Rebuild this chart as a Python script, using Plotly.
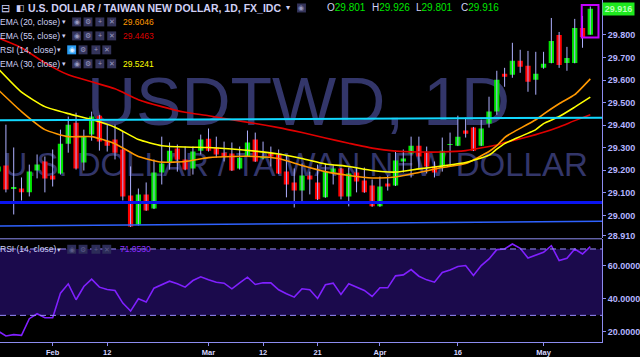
import plotly.graph_objects as go
import pandas as pd

# ---------------- data ----------------
dates = [d.strftime('%Y-%m-%d') for d in pd.bdate_range('2018-01-23', '2018-05-09')]

opens = [29.194, 29.221, 29.118, 29.119, 29.102, 29.199, 29.239, 29.177, 29.186, 29.318,
         29.411, 29.234, 29.358, 29.442, 29.331, 29.336, 29.292, 29.088, 28.960, 29.093,
         29.031, 29.190, 29.234, 29.296, 29.248, 29.208, 29.287, 29.340, 29.301, 29.278,
         29.274, 29.208, 29.261, 29.336, 29.252, 29.274, 29.270, 29.194, 29.146, 29.110,
         29.177, 29.146, 29.080, 29.190, 29.208, 29.084, 29.190, 29.155, 29.133, 29.040,
         29.141, 29.133, 29.239, 29.274, 29.309, 29.278, 29.217, 29.217, 29.312, 29.309,
         29.376, 29.389, 29.309, 29.407, 29.460, 29.628, 29.623, 29.685, 29.663, 29.601,
         29.654, 29.676, 29.800, 29.676, 29.676, 29.831, 29.801]
highs = [29.230, 29.402, 29.301, 29.168, 29.225, 29.270, 29.261, 29.292, 29.380, 29.438,
         29.455, 29.380, 29.460, 29.445, 29.402, 29.402, 29.371, 29.217, 29.119, 29.146,
         29.248, 29.349, 29.323, 29.314, 29.305, 29.305, 29.358, 29.385, 29.349, 29.327,
         29.323, 29.305, 29.376, 29.367, 29.327, 29.305, 29.292, 29.265, 29.208, 29.230,
         29.194, 29.225, 29.230, 29.225, 29.210, 29.212, 29.212, 29.212, 29.159, 29.172,
         29.177, 29.287, 29.292, 29.349, 29.349, 29.305, 29.239, 29.345, 29.367, 29.442,
         29.433, 29.392, 29.424, 29.526, 29.641, 29.654, 29.765, 29.734, 29.729, 29.725,
         29.725, 29.875, 29.813, 29.747, 29.871, 29.884, 29.926]
lows = [29.180, 29.102, 29.004, 29.066, 29.084, 29.164, 29.102, 29.128, 29.181, 29.278,
        29.203, 29.199, 29.331, 29.287, 29.283, 29.248, 29.066, 28.949, 28.955, 29.020,
        29.028, 29.137, 29.203, 29.194, 29.200, 29.181, 29.270, 29.283, 29.256, 29.239,
        29.197, 29.203, 29.259, 29.237, 29.248, 29.217, 29.183, 29.080, 29.035, 29.062,
        29.093, 29.068, 29.078, 29.137, 29.071, 29.040, 29.102, 29.100, 29.038, 29.038,
        29.110, 29.130, 29.190, 29.168, 29.203, 29.186, 29.168, 29.194, 29.217, 29.307,
        29.345, 29.285, 29.307, 29.389, 29.446, 29.570, 29.610, 29.632, 29.548, 29.535,
        29.650, 29.674, 29.654, 29.641, 29.674, 29.743, 29.801]
closes = [29.217, 29.115, 29.120, 29.102, 29.194, 29.225, 29.164, 29.159, 29.318, 29.402,
          29.208, 29.349, 29.438, 29.327, 29.309, 29.278, 29.084, 28.951, 29.093, 29.022,
          29.190, 29.230, 29.287, 29.248, 29.203, 29.283, 29.336, 29.287, 29.270, 29.261,
          29.199, 29.256, 29.323, 29.239, 29.261, 29.261, 29.186, 29.137, 29.110, 29.177,
          29.159, 29.071, 29.194, 29.208, 29.084, 29.186, 29.150, 29.102, 29.040, 29.128,
          29.128, 29.243, 29.252, 29.309, 29.261, 29.217, 29.190, 29.287, 29.316, 29.349,
          29.362, 29.287, 29.385, 29.460, 29.601, 29.614, 29.685, 29.659, 29.592, 29.628,
          29.672, 29.773, 29.667, 29.698, 29.831, 29.791, 29.916]

rsi = [20.5, 17.6, 18.4, 18.0, 28.0, 31.0, 28.6, 28.6, 43.4, 49.0,
       39.4, 47.4, 51.8, 47.0, 45.6, 45.0, 37.4, 32.6, 40.0, 38.0,
       46.4, 48.4, 50.6, 49.0, 47.0, 51.0, 53.2, 51.4, 50.0, 49.4,
       46.0, 49.6, 53.0, 48.6, 49.6, 49.6, 45.4, 43.0, 41.0, 46.0,
       45.4, 40.2, 48.4, 49.4, 42.6, 49.0, 47.0, 45.0, 41.4, 46.6,
       46.6, 53.8, 54.4, 57.6, 53.6, 51.4, 50.0, 55.8, 57.4, 59.4,
       60.0, 54.0, 60.0, 64.0, 69.6, 70.0, 73.0, 70.4, 64.6, 66.2,
       68.0, 72.0, 63.0, 64.4, 70.0, 67.0, 71.4]

ema_idx = [0, 3, 6, 9, 12, 15, 18, 21, 24, 27, 30, 33, 36, 39, 42, 45, 48, 51, 54, 57,
           60, 63, 64, 65, 66, 69, 70, 72, 74, 76]
ema20 = [29.557, 29.460, 29.380, 29.349, 29.349, 29.318, 29.261, 29.236, 29.239, 29.256,
         29.261, 29.261, 29.252, 29.221, 29.194, 29.177, 29.166, 29.170, 29.190, 29.212,
         29.230, 29.283, 29.309, 29.345, 29.367, 29.424, 29.449, 29.495, 29.535, 29.605]
ema30 = [29.650, 29.546, 29.482, 29.451, 29.425, 29.391, 29.336, 29.309, 29.303, 29.301,
         29.294, 29.285, 29.272, 29.252, 29.228, 29.217, 29.199, 29.192, 29.206, 29.219,
         29.234, 29.267, 29.294, 29.318, 29.334, 29.380, 29.407, 29.438, 29.480, 29.524]
ema55 = [29.787, 29.743, 29.676, 29.623, 29.592, 29.561, 29.513, 29.482, 29.457, 29.442,
         29.424, 29.407, 29.389, 29.367, 29.343, 29.320, 29.298, 29.285, 29.281, 29.281,
         29.287, 29.305, 29.312, 29.323, 29.331, 29.358, 29.368, 29.392, 29.420, 29.446]

tick_dates = ['2018-02-01', '2018-02-12', '2018-03-01', '2018-03-12',
              '2018-03-21', '2018-04-02', '2018-04-16', '2018-05-01']
tick_labels = ['Feb', '12', 'Mar', '12', '21', 'Apr', '16', 'May']

price_ticks = [28.91, 29.0, 29.1, 29.2, 29.3, 29.4, 29.5, 29.6, 29.7, 29.8]
rsi_ticks = [20, 40, 60]

cyan_level = [29.422, 29.433]
blue_level = 29.057
trend_level = [28.953, 28.974]

last_close = closes[-1]
legend_vals = {'ema20': '29.6046', 'ema55': '29.4463', 'ema30': '29.5241', 'rsi': '71.0530'}

# ---------------- geometry ----------------
W, H = 640, 357
ML, MR, MT, MB = 0, 31, 0, 14
PW, PH = W - ML - MR, H - MT - MB
FONT = 'Liberation Sans'
LAV = '#8c8cf0'
TXT = '#d0d0f5'


def px(x):
    return x / PW


def py(y):
    return (PH - y) / PH


price_dom = [py(239), 1]
rsi_dom = [0, py(240)]
xr = [0.24, 77.5]

fig = go.Figure()

# wicks
wx, wy = [], []
for d, lo, hi in zip(dates, lows, highs):
    wx += [d, d, None]
    wy += [lo, hi, None]
fig.add_trace(go.Scatter(x=wx, y=wy, mode='lines', line=dict(color='#aeb0ff', width=1),
                         hoverinfo='skip', showlegend=False, xaxis='x', yaxis='y'))

# bodies
bases = [min(o, c) for o, c in zip(opens, closes)]
heights = [max(abs(c - o), 0.004) for o, c in zip(opens, closes)]
colors = ['#00e600' if c >= o else '#ff0000' for o, c in zip(opens, closes)]
fig.add_trace(go.Bar(x=dates, y=heights, base=bases, marker=dict(color=colors, line=dict(width=0)),
                     width=0.68, showlegend=False, xaxis='x', yaxis='y'))

# EMAs
ema_x = [dates[i] for i in ema_idx]
for vals, col in [(ema55, '#e00000'), (ema20, '#ff9800'), (ema30, '#ffff00')]:
    fig.add_trace(go.Scatter(x=ema_x, y=vals, mode='lines',
                             line=dict(color=col, width=1.6, shape='spline', smoothing=0.5),
                             showlegend=False, xaxis='x', yaxis='y'))

# RSI
fig.add_trace(go.Scatter(x=dates, y=rsi, mode='lines', line=dict(color='#8020ff', width=1.6),
                         showlegend=False, xaxis='x2', yaxis='y2'))

shapes = []
# watermark (below traces)
shapes.append(dict(type='rect', xref='paper', yref='paper', x0=0, x1=px(604), y0=py(118), y1=py(72),
                   line=dict(width=0), fillcolor='rgba(0,0,0,0)', layer='below',
                   label=dict(text='USDTWD, 1D', textposition='middle center',
                              font=dict(size=68, color='#33366a', family=FONT))))
shapes.append(dict(type='rect', xref='paper', yref='paper', x0=0, x1=px(598), y0=py(175), y1=py(148),
                   line=dict(width=0), fillcolor='rgba(0,0,0,0)', layer='below',
                   label=dict(text='U.S. DOLLAR / TAIWAN NEW DOLLAR', textposition='middle center',
                              font=dict(size=33, color='#33366a', family=FONT))))
# RSI band
shapes.append(dict(type='rect', xref='x2 domain', yref='y2', x0=0, x1=1, y0=30, y1=70,
                   line=dict(width=0), fillcolor='#1b0a4c', layer='below'))
for lv in (30, 70):
    shapes.append(dict(type='line', xref='x2 domain', yref='y2', x0=0, x1=1, y0=lv, y1=lv,
                       line=dict(color='#9a8cff', width=1, dash='6px,4px')))
# drawings
shapes.append(dict(type='line', xref='x domain', yref='y', x0=0, x1=1, y0=cyan_level[0], y1=cyan_level[1],
                   line=dict(color='#12d8ff', width=2)))
shapes.append(dict(type='line', xref='x domain', yref='y', x0=0, x1=1, y0=blue_level, y1=blue_level,
                   line=dict(color='#0a14f0', width=3)))
shapes.append(dict(type='line', xref='x domain', yref='y', x0=0, x1=1, y0=trend_level[0], y1=trend_level[1],
                   line=dict(color='#2f62ff', width=1.5)))
# highlight box around last candle
shapes.append(dict(type='rect', xref='x', yref='y', x0=74.9, x1=77.05, y0=29.788, y1=29.933,
                   line=dict(color='#c400ff', width=2), fillcolor='rgba(0,0,0,0)'))
# pane separator
shapes.append(dict(type='line', xref='paper', yref='paper', x0=0, x1=1, y0=py(239.5), y1=py(239.5),
                   line=dict(color=LAV, width=1)))

anns = []


def ann(x, y, text, size, color, weight='normal', anchor='left', **kw):
    d = dict(x=px(x), y=py(y), xref='paper', yref='paper', text=text, showarrow=False,
             xanchor=anchor, yanchor='middle', borderpad=0,
             font=dict(size=size, color=color, family=FONT, weight=weight))
    d.update(kw)
    anns.append(d)


def icon_box(x, y, glyph, bg='#34345a', fg='#9a9ac0'):
    shapes.append(dict(type='rect', xref='paper', yref='paper', x0=px(x - 4.5), x1=px(x + 4.5),
                       y0=py(y + 4.5), y1=py(y - 4.5), line=dict(width=0), fillcolor=bg))
    ann(x, y, glyph, 7, fg, anchor='center')


# header line 1
ann(0, 8, '⊟', 11, TXT)
ann(15, 8, '◧', 9, TXT)
ann(27, 8, 'U.S. DOLLAR / TAIWAN NEW DOLLAR, 1D, FX_IDC', 10.5, TXT, weight='bold')
ann(288, 8, '▾', 8, TXT)
icon_box(305, 8, '◉')
ohlc = [('O', opens[-1], 330), ('H', highs[-1], 375), ('L', lows[-1], 420), ('C', last_close, 465)]
for lab, v, x in ohlc:
    ann(x, 8, f"{lab}<span style='color:#00e600'>{v:.3f}</span>", 10, TXT)

# indicator legend lines
legend_rows = [(22, 'EMA (20, close)', legend_vals['ema20'], '#ff9800'),
               (36, 'EMA (55, close)', legend_vals['ema55'], '#dd0000'),
               (50, 'RSI (14, close)', None, None),
               (64, 'EMA (30, close)', legend_vals['ema30'], '#ffff00')]
for y, lab, val, col in legend_rows:
    ann(-1, y, lab, 8.5, TXT)
    is_rsi = lab.startswith('RSI')
    ann(57 if is_rsi else 62, y, '▾', 7, TXT)
    xs = [72.5, 84, 97, 108] if is_rsi else [77.5, 89, 101, 113]
    for k, (xc, g) in enumerate(zip(xs, ['◉', '⚙', '+', '✕'])):
        if is_rsi and k == 0:
            icon_box(xc, y, g, bg='#2a9df4', fg='#e0f0ff')
        else:
            icon_box(xc, y, g)
    if val:
        ann(123, y, val, 8.5, col)

# RSI pane legend
ann(-1, 250, 'RSI (14, close)', 8.5, TXT)
ann(57, 250, '▾', 7, TXT)
for xc, g in zip([72.5, 84, 97, 108], ['◉', '⚙', '+', '✕']):
    icon_box(xc, 250, g, bg='#2c2c58', fg='#5a5a88')
ann(120, 250, legend_vals['rsi'], 8.5, '#8c2cff')

# last price label
anns.append(dict(x=1, y=last_close, xref='paper', yref='y', text=f'{last_close:.3f}', showarrow=False,
                 xanchor='left', yanchor='middle', bgcolor='#1ee81e', width=31, height=12, borderpad=0,
                 font=dict(size=9, color='#b8ffb8', family=FONT, weight='bold')))

axis_common = dict(type='category', categoryorder='array', categoryarray=dates, range=xr,
                   showgrid=False, zeroline=False, fixedrange=True)

fig.update_layout(
    width=W, height=H, margin=dict(l=ML, r=MR, t=MT, b=MB),
    paper_bgcolor='#000000', plot_bgcolor='#000000',
    showlegend=False, barmode='overlay',
    xaxis=dict(domain=[0, 1], anchor='y', showticklabels=False, showline=False, **axis_common),
    xaxis2=dict(domain=[0, 1], anchor='y2', showticklabels=True, showline=True, linecolor=LAV, linewidth=1,
                tickmode='array', tickvals=tick_dates, ticktext=tick_labels, ticks='outside', ticklen=3,
                tickcolor=LAV, tickangle=0,
                tickfont=dict(size=7.5, color='#d6d6ff', family=FONT, weight='bold'), **axis_common),
    yaxis=dict(domain=price_dom, anchor='x', side='right', range=[28.8984, 29.9547],
               showgrid=False, zeroline=False, showline=True, linecolor=LAV, linewidth=1,
               tickmode='array', tickvals=price_ticks, ticktext=[f'{v:.3f}' for v in price_ticks],
               ticks='outside', ticklen=3, tickcolor=LAV,
               tickfont=dict(size=9, color='#b4b4ff', family=FONT, weight='bold')),
    yaxis2=dict(domain=rsi_dom, anchor='x2', side='right', range=[13.96, 75.83],
                showgrid=False, zeroline=False, showline=True, linecolor=LAV, linewidth=1,
                tickmode='array', tickvals=rsi_ticks, ticktext=[f'{v:.4f}' for v in rsi_ticks],
                ticks='outside', ticklen=3, tickcolor=LAV,
                tickfont=dict(size=9, color='#b4b4ff', family=FONT, weight='bold')),
    shapes=shapes, annotations=anns,
)

fig.write_html('out.html')
